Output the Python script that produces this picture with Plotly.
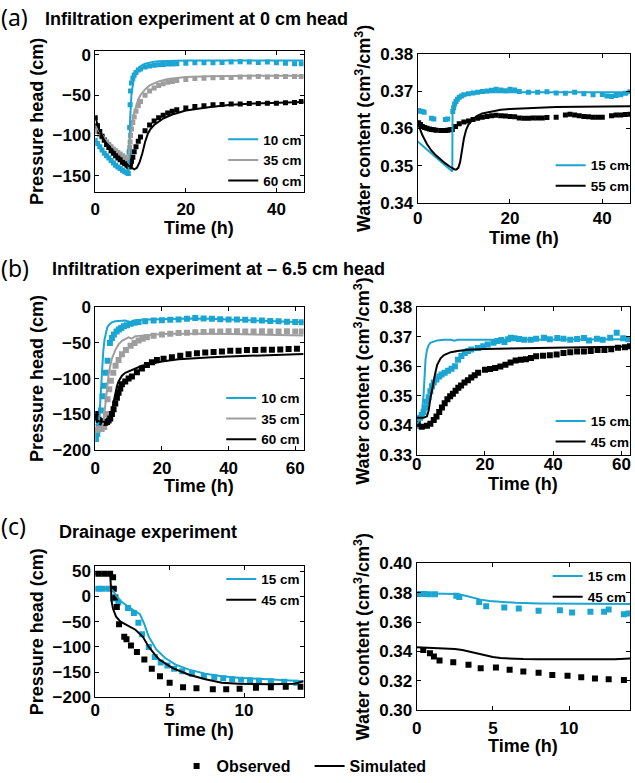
import plotly.graph_objects as go

W, H = 635, 783
CYAN = "#1aa5d2"
GRAY = "#9e9e9e"
BLACK = "#000000"
FONT = "Liberation Sans"

# ---------------- (a) infiltration at 0 cm head ----------------
pa_obs_t = [0, 0.5, 1, 1.5, 2, 2.5, 3, 3.5, 4, 4.5, 5, 5.5, 6, 6.5, 7, 7.3, 7.5, 7.6, 7.7, 7.8,
            8, 8.3, 8.6, 9, 9.5, 10, 11, 12, 13, 14, 15, 16, 17, 18, 20, 22, 24, 26, 28, 30,
            32, 34, 36, 38, 40, 42, 44, 45.5]
pa10_obs = [-106, -110, -114, -118, -122, -125, -128, -131, -134, -137, -139, -141, -143, -145, -146, -147, -120, -90, -62, -45,
            -35, -29, -25, -22, -19, -17.5, -15, -14, -13, -12.5, -12, -11.5, -11.5, -11, -10.5, -10, -10, -10, -9.5, -9,
            -8.5, -9, -9.5, -9, -10, -10.5, -11, -11]
pa35_obs = [-92, -95, -99, -102, -105, -108, -111, -114, -117, -119, -121, -123, -125, -127, -129, -130, -122, -115, -108, -100,
            -92, -84, -77, -70, -63, -58, -50, -45, -41, -38, -36, -34, -33, -32, -30.5, -29.5, -29, -28.5, -28, -28,
            -27.5, -27.5, -27, -27.5, -27, -27, -27, -27]
pa60_obs = [-78, -88, -95, -101, -106, -111, -115, -119, -122, -125, -128, -130, -133, -135, -137, -138, -139, -138, -137, -135,
            -132, -127, -120, -114, -107, -102, -94, -87, -82, -78, -75, -72, -70, -68, -66, -64, -63, -62, -61.5, -61,
            -61, -60.5, -60.5, -60, -60, -59.5, -59, -58]
pa10_sim_t = [0, 1, 2, 3, 4, 5, 6, 7, 7.3, 7.5, 7.7, 8, 8.5, 9, 9.5, 10, 11, 12, 13, 14, 16, 18, 20, 25, 30, 35, 40, 46]
pa10_sim = [-106, -114, -121, -127, -133, -138, -142, -145, -147, -125, -80, -48, -31, -22, -17, -14, -11, -9.5, -8.5, -8,
            -7.5, -7.2, -7, -7, -7, -7, -7, -7]
pa35_sim_t = [0, 1, 2, 3, 4, 5, 6, 7, 7.3, 7.6, 8, 8.5, 9, 9.5, 10, 11, 12, 13, 14, 16, 18, 20, 25, 30, 35, 40, 46]
pa35_sim = [-88, -96, -103, -109, -115, -120, -124, -128, -130, -112, -90, -74, -63, -55, -50, -43, -38, -35, -33, -30,
            -28.5, -27.5, -26.5, -26, -26, -26, -26]
pa60_sim_t = [0, 0.5, 1, 2, 3, 4, 5, 6, 7, 7.5, 8, 8.6, 9.2, 9.8, 10.4, 11, 11.6, 12.2, 13, 14, 15, 17, 20, 25, 30, 35, 40, 46]
pa60_sim = [-76, -87, -94, -106, -115, -121, -127, -132, -136, -138, -140, -142, -140, -133, -122, -108, -98, -92, -87, -83,
            -79, -74, -69, -65, -62, -60.5, -59.5, -58.5]

wa15_obs_t = [0.2, 0.6, 1.0, 1.4, 3.0, 3.5, 6.0, 6.5, 7.6, 7.8, 8.0, 8.3, 8.6, 9.0, 9.5, 10, 11, 12, 13, 14,
              15, 16, 17, 18, 19, 20, 21, 22, 24, 26, 28, 30, 32, 34, 36, 38, 40, 41, 42, 43, 44, 45, 46]
wa15_obs = [0.3648, 0.3646, 0.3645, 0.3643, 0.3627, 0.3625, 0.3624, 0.3625, 0.3645, 0.3655,
            0.3665, 0.3672, 0.3678, 0.3683, 0.3687, 0.3690, 0.3693, 0.3695, 0.3697, 0.3699,
            0.3700, 0.3702, 0.3705, 0.3703, 0.3701, 0.3705, 0.3703, 0.3699, 0.3697, 0.3697,
            0.3698, 0.3695, 0.3694, 0.3697, 0.3693, 0.3690, 0.3691, 0.3687, 0.3685, 0.3688,
            0.3690, 0.3694, 0.3698]
wa55_obs_t = [0.2, 0.6, 1, 1.5, 2, 2.5, 3, 3.5, 4, 5, 6, 6.5, 7, 7.5, 8.2, 9, 10, 11, 12, 13,
              14, 15, 16, 17, 18, 19, 20, 21, 22, 23, 24, 25, 26, 27, 28, 30, 32, 33, 34, 35,
              36, 37, 38, 39, 40, 42, 43, 44, 45, 46]
wa55_obs = [0.3615, 0.3610, 0.3605, 0.3602, 0.3600, 0.3598, 0.3597, 0.3596, 0.3595, 0.3594,
            0.3594, 0.3595, 0.3596, 0.3597, 0.3605, 0.3612, 0.3617, 0.3620, 0.3624, 0.3627,
            0.3630, 0.3632, 0.3634, 0.3635, 0.3634, 0.3633, 0.3632, 0.3631, 0.3628, 0.3627,
            0.3627, 0.3628, 0.3628, 0.3628, 0.3629, 0.3630, 0.3636, 0.3638, 0.3636, 0.3634,
            0.3632, 0.3631, 0.3630, 0.3630, 0.3630, 0.3634, 0.3636, 0.3636, 0.3637, 0.3638]
wa15_sim_t = [0, 1, 2, 3, 4, 5, 6, 7, 7.5, 7.55, 8, 8.5, 9, 10, 11, 12, 14, 16, 20, 25, 30, 35, 40, 46]
wa15_sim = [0.3565, 0.3554, 0.3543, 0.3532, 0.3522, 0.3511, 0.3501, 0.3490, 0.3484, 0.3640, 0.3662, 0.3675,
            0.3683, 0.3690, 0.3694, 0.3696, 0.3697, 0.3697, 0.3697, 0.3697, 0.3697, 0.3697, 0.3697, 0.3697]
wa55_sim_t = [0, 0.5, 1, 2, 3, 4, 5, 6, 7, 7.5, 8, 8.4, 8.8, 9.2, 9.6, 10, 10.5, 11, 12, 13, 14, 16, 18, 20, 25,
              30, 35, 40, 46]
wa55_sim = [0.3615, 0.3597, 0.3582, 0.3558, 0.3540, 0.3527, 0.3516, 0.3506, 0.3497, 0.3493, 0.3490, 0.3490,
            0.3494, 0.3510, 0.3540, 0.3572, 0.3596, 0.3610, 0.3625, 0.3634, 0.3640, 0.3646, 0.3650, 0.3652,
            0.3655, 0.3657, 0.3658, 0.3658, 0.3659]

# ---------------- (b) infiltration at -6.5 cm head ----------------
pb10_obs_t = [0.2, 0.6, 1.1, 1.7, 2.2, 2.7, 3.2, 3.7, 4.4, 5.0, 5.6, 6.4, 7.1, 7.8, 8.6, 9.5, 10.6, 11.8, 13,
              15, 17.5, 20, 22.5, 25, 27.5, 30, 32.5, 35, 37.5, 40, 42.5, 45, 47.5, 50, 52.5, 55, 57.5, 60, 62]
pb10_obs = [-185, -178, -165, -145, -125, -110, -92, -75, -50, -43, -38, -34, -31, -29, -26.5, -25, -23, -21.5, -20.5,
            -19.5, -18.5, -18, -17.5, -17, -16, -15, -15.5, -16, -16.5, -17, -17, -17.5, -18, -18.5, -19, -19.5, -20,
            -20.5, -21]
pb35_obs_t = [0.2, 0.7, 1.3, 1.9, 2.7, 3.2, 3.7, 4.2, 4.7, 5.4, 6.1, 7, 8, 9.2, 10.6, 11.8, 13, 14.2, 15.5, 17.5,
              20, 22.5, 25, 27.5, 30, 32.5, 35, 37.5, 40, 42.5, 45, 47.5, 50, 52.5, 55, 57.5, 60, 62]
pb35_obs = [-172, -172, -171, -171, -168, -150, -129, -115, -103, -92, -82, -74, -66, -60, -54, -50, -46.5, -44, -42, -40,
            -38, -37, -36, -35.5, -35, -34.5, -34, -34, -33.5, -33.5, -34, -34, -33.5, -34, -34, -33.5, -34, -34]
pb60_obs_t = [0.2, 0.6, 1.0, 1.5, 2.0, 2.5, 3.0, 3.5, 4.0, 4.5, 5.0, 5.5, 6.0, 6.5, 7.0, 7.5, 8.0, 9.0, 10.0, 11.0,
              12.5, 14, 15.5, 17, 18.5, 20.5, 23, 25.5, 28, 30.5, 33, 35.5, 38, 40.5, 43, 45.5, 48, 50.5, 53, 55.5,
              58, 60.5]
pb60_obs = [-150, -155, -158, -160, -161, -162, -162, -161, -159, -156, -150, -143, -135, -127, -120, -114, -108, -104,
            -100, -97, -91, -86, -81, -77, -74, -72, -70, -68, -66, -64.5, -63.5, -62.5, -62, -61, -61, -60, -60, -59.5,
            -59.5, -59, -58.5, -58]
pb10_sim_t = [0, 0.5, 1, 1.3, 1.6, 2, 2.4, 2.8, 3.2, 3.6, 4.2, 5, 6, 7.5, 9, 10, 10.5, 11, 12, 14, 18, 22, 28, 34,
              40, 48, 55, 62.5]
pb10_sim = [-165, -165, -163, -150, -125, -90, -62, -45, -34, -28, -24, -21, -19.5, -18.5, -18.5, -20, -22, -20, -18,
            -17.5, -17, -16.5, -15.5, -16, -17, -18.5, -20, -21]
pb35_sim_t = [0, 0.5, 1, 1.5, 2, 2.5, 3, 3.5, 4, 4.5, 5, 6, 7, 8, 9, 10, 11, 11.5, 12, 13, 15, 18, 22, 28, 34, 40,
              48, 55, 62.5]
pb35_sim = [-170, -170, -170, -169, -168, -160, -138, -112, -95, -82, -72, -60, -52, -47, -44, -42, -44, -42, -40.5,
            -40, -39, -38, -37, -36.5, -37, -37.5, -38.5, -39, -39.5]
pb60_sim_t = [0, 0.5, 1, 2, 3, 4, 4.5, 5, 5.5, 6, 6.5, 7, 7.5, 8, 9, 10, 11, 12, 13, 14, 16, 18, 20, 25, 30, 35, 40,
              45, 50, 55, 62.5]
pb60_sim = [-153, -158, -160, -161, -161, -160, -155, -145, -132, -120, -111, -104, -99, -96, -92, -90, -88, -86, -84,
            -82, -80, -77.5, -76, -73, -71, -70, -69, -68, -67.5, -67, -65.5]

wb15_obs_t = [0.3, 1.0, 1.5, 2.0, 2.5, 3.0, 3.5, 4.0, 4.5, 5.0, 5.8, 6.6, 7.3, 8.2, 9.2, 10.2, 11.2, 12.1, 13.1, 14.1,
              15.0, 16.0, 17.9, 19.5, 20.8, 22.5, 23.7, 24.8, 25.7, 26.8, 27.6, 28.7, 30.0, 31.5, 33.4, 35.0, 37.3,
              39.0, 41.2, 43.0, 45.0, 47.0, 49.0, 50.5, 52.8, 54.5, 56.7, 58.6, 60.5, 62.0]
wb15_obs = [0.3398, 0.3425, 0.3435, 0.3445, 0.3460, 0.3480, 0.3495, 0.3515, 0.3532, 0.3545,
            0.3555, 0.3565, 0.3572, 0.3578, 0.3585, 0.3592, 0.3600, 0.3622, 0.3635, 0.3645,
            0.3652, 0.3657, 0.3662, 0.3668, 0.3674, 0.3680, 0.3686, 0.3689, 0.3683, 0.3692,
            0.3697, 0.3695, 0.3693, 0.3690, 0.3690, 0.3694, 0.3697, 0.3692, 0.3696, 0.3694,
            0.3690, 0.3693, 0.3696, 0.3688, 0.3694, 0.3690, 0.3697, 0.3714, 0.3695, 0.3692]
wb45_obs_t = [0.3, 1.5, 3.0, 4.0, 5.0, 5.8, 6.6, 7.4, 8.2, 9.0, 9.8, 10.6, 11.4, 12.2, 13.0, 14.0, 15.0, 16.0, 17.0,
              18.0, 20.0, 21.5, 23.0, 24.5, 26.0, 27.5, 29.0, 30.5, 32.0, 33.5, 35.0, 37.0, 39.0, 41.0, 43.0, 45.0,
              47.0, 49.0, 51.0, 53.0, 55.0, 57.0, 59.0, 61.0, 62.5]
wb45_obs = [0.3405, 0.3395, 0.3398, 0.3405, 0.3418, 0.3430, 0.3445, 0.3460, 0.3475, 0.3488,
            0.3498, 0.3507, 0.3517, 0.3527, 0.3535, 0.3545, 0.3553, 0.3562, 0.3570, 0.3578,
            0.3588, 0.3591, 0.3594, 0.3599, 0.3605, 0.3613, 0.3620, 0.3622, 0.3624, 0.3628,
            0.3634, 0.3636, 0.3638, 0.3640, 0.3645, 0.3648, 0.3650, 0.3650, 0.3652, 0.3655,
            0.3655, 0.3658, 0.3663, 0.3665, 0.3668]
wb15_sim_t = [0, 0.5, 1, 1.5, 2, 2.3, 2.6, 3, 3.5, 4, 5, 6, 8, 10, 11, 12, 14, 18, 25, 30, 40, 50, 62.5]
wb15_sim = [0.3405, 0.3410, 0.3425, 0.3440, 0.3500, 0.3570, 0.3625, 0.3655, 0.3672, 0.3680, 0.3685, 0.3688,
            0.3690, 0.3690, 0.3687, 0.3690, 0.3690, 0.3690, 0.3690, 0.3691, 0.3691, 0.3692, 0.3692]
wb45_sim_t = [0, 1, 2, 3, 3.5, 4, 4.5, 5, 5.5, 6, 7, 8, 9, 10, 12, 15, 20, 25, 30, 40, 50, 62.5]
wb45_sim = [0.3425, 0.3425, 0.3425, 0.3430, 0.3450, 0.3490, 0.3525, 0.3555, 0.3580, 0.3605, 0.3627, 0.3638,
            0.3644, 0.3648, 0.3652, 0.3656, 0.3659, 0.3660, 0.3661, 0.3662, 0.3663, 0.3667]

# ---------------- (c) drainage ----------------
pc15_obs_t = [0.2, 0.5, 0.9, 1.2, 1.55, 2.2, 2.6, 2.9, 3.15, 3.6, 4.0, 4.4, 4.85, 5.3, 5.85, 6.5, 7.3, 8.0, 8.6, 9.2,
              9.8, 10.4, 11.0, 11.8, 12.7, 13.5]
pc15_obs = [15, 15, 15, -4, -12, -23, -33, -52, -75, -100, -120, -131, -137, -143, -148, -153, -158, -160, -162, -164,
            -165, -166, -167, -168, -169, -171]
pc45_obs_t = [0.2, 0.6, 1.0, 1.2, 1.25, 1.35, 1.45, 1.6, 1.95, 2.1, 2.4, 2.8, 3.3, 3.8, 4.35, 5.0, 5.9, 6.8, 7.9, 8.8,
              9.7, 10.8, 11.8, 12.8, 13.8]
pc45_obs = [45, 45, 45, 38, 15, -2, -21, -55, -80, -85, -97, -110, -125, -143, -158, -171, -180, -182, -184, -184,
            -183, -181, -180, -179, -179]
pc15_sim_t = [0, 0.5, 1.0, 1.15, 1.7, 2.3, 3.0, 3.3, 3.6, 4.1, 4.7, 5.4, 6.3, 7.4, 8.5, 9.6, 10.7, 11.8, 12.9, 14]
pc15_sim = [15, 15, 15, 12, -9, -22, -35, -55, -80, -105, -122, -135, -145, -153, -158, -161, -163, -165, -167, -168]
pc45_sim_t = [0, 0.5, 1.0, 1.05, 1.1, 1.2, 1.4, 1.7, 2.1, 2.7, 3.2, 3.6, 4.0, 4.3, 5.2, 6.3, 7.4, 8.5, 9.6, 11.8,
              13.4, 14]
pc45_sim = [45, 45, 45, 20, -10, -25, -40, -50, -57, -66, -80, -100, -115, -125, -142, -155, -164, -171, -173, -174,
            -173, -168]

wc15_obs_t = [0.2, 0.5, 0.8, 1.2, 2.6, 2.8, 4.1, 4.56, 5.75, 6.7, 8.0, 9.4, 10.2, 11.4, 12.3, 12.6, 13.6, 13.9]
wc15_obs = [0.3790, 0.3790, 0.3788, 0.3788, 0.3778, 0.3770, 0.3736, 0.3707, 0.3698, 0.3691, 0.3676, 0.3680,
            0.3664, 0.3669, 0.3669, 0.3685, 0.3653, 0.3658]
wc45_obs_t = [0.43, 0.87, 1.13, 1.5, 2.4, 3.4, 4.2, 5.2, 6.1, 7.0, 8.0, 8.9, 9.9, 10.8, 11.7, 12.6, 13.6]
wc45_obs = [0.3410, 0.3387, 0.3365, 0.3338, 0.3327, 0.3309, 0.3286, 0.3291, 0.3275, 0.3264, 0.3255, 0.3240,
            0.3235, 0.3225, 0.3216, 0.3212, 0.3206]
wc15_sim_t = [0, 1, 2, 2.7, 3.2, 3.7, 4.2, 4.8, 5.5, 6.5, 8, 10, 12, 14]
wc15_sim = [0.3795, 0.3795, 0.3793, 0.3790, 0.3778, 0.3763, 0.3752, 0.3742, 0.3735, 0.3730, 0.3726, 0.3724,
            0.3723, 0.3722]
wc45_sim_t = [0, 1, 2, 2.5, 3, 3.5, 4, 4.5, 5, 5.5, 6, 7, 8, 9, 10, 11, 12, 13, 14]
wc45_sim = [0.3428, 0.3425, 0.3420, 0.3416, 0.3410, 0.3398, 0.3385, 0.3372, 0.3362, 0.3355, 0.3351, 0.3348,
            0.3347, 0.3346, 0.3346, 0.3346, 0.3346, 0.3347, 0.3352]

# tick values
p_ticks_a = [-150, -100, -50, 0]
p_ticks_b = [-200, -150, -100, -50, 0]
p_ticks_c = [-200, -150, -100, -50, 0, 50]
w_ticks_a = [0.34, 0.35, 0.36, 0.37, 0.38]
w_ticks_b = [0.33, 0.34, 0.35, 0.36, 0.37, 0.38]
w_ticks_c = [0.30, 0.32, 0.34, 0.36, 0.38, 0.40]
t_ticks_a = [0, 20, 40]
t_ticks_b = [0, 20, 40, 60]
t_ticks_c = [0, 5, 10]

P_TITLE = "Pressure head (cm)"
W_TITLE = "Water content (cm<sup>3</sup>/cm<sup>3</sup>)"
T_TITLE = "Time (h)"


def xdom(x0, x1):
    return [x0 / W, min(x1 / W, 1.0)]


def ydom(y0, y1):
    return [1 - y1 / H, 1 - y0 / H]


# panel boxes in pixels: (left, right, top, bottom); lab = tick label shift, tgap = time title offset
panels = [
    dict(box=(96, 306, 51, 193), xr=[0, 46], yr=[-170, 5], xt=t_ticks_a, yt=p_ticks_a, fmt=None,
         title=P_TITLE, lab=2, tgap=36),
    dict(box=(421, 635, 54, 204), xr=[0, 46], yr=[0.34, 0.38], xt=t_ticks_a, yt=w_ticks_a, fmt=".2f",
         title=W_TITLE, lab=0, tgap=35),
    dict(box=(96, 306, 309, 452), xr=[0, 62.5], yr=[-200, 0], xt=t_ticks_b, yt=p_ticks_b, fmt=None,
         title=P_TITLE, lab=3, tgap=36),
    dict(box=(420, 635, 309, 457), xr=[0, 62.5], yr=[0.33, 0.38], xt=t_ticks_b, yt=w_ticks_b, fmt=".2f",
         title=W_TITLE, lab=-6, tgap=29),
    dict(box=(96, 306, 569, 701), xr=[0, 14], yr=[-200, 60], xt=t_ticks_c, yt=p_ticks_c, fmt=None,
         title=P_TITLE, lab=-3, tgap=33),
    dict(box=(420, 635, 566, 714), xr=[0, 14], yr=[0.30, 0.40], xt=t_ticks_c, yt=w_ticks_c, fmt=".2f",
         title=W_TITLE, lab=2, tgap=36),
]

tickfont = dict(family=FONT, size=17, color="black", weight="bold")
titlefont = dict(family=FONT, size=18, color="black", weight="bold")

fig = go.Figure()
layout = dict(
    width=W, height=H, margin=dict(l=0, r=0, t=0, b=0),
    paper_bgcolor="white", plot_bgcolor="white", showlegend=True,
)
annotations = []

for i, p in enumerate(panels, start=1):
    l, r, t, b = p["box"]
    sx = "" if i == 1 else str(i)
    common = dict(showgrid=False, zeroline=False, showline=True, linecolor="black", linewidth=1,
                  mirror="ticks", ticks="inside", ticklen=4, tickcolor="black", tickwidth=1,
                  tickfont=tickfont, automargin=False)
    layout["xaxis" + sx] = dict(common, domain=xdom(l, r), range=p["xr"], tickvals=p["xt"],
                                anchor="y" + sx, ticklabelstandoff=p["lab"])
    ydict = dict(common, domain=ydom(t, b), range=p["yr"], tickvals=p["yt"], anchor="x" + sx,
                 title=dict(text=p["title"], font=titlefont, standoff=4))
    if p["fmt"]:
        ydict["tickformat"] = p["fmt"]
    layout["yaxis" + sx] = ydict
    # time axis title, set just under the tick labels
    annotations.append(dict(text=T_TITLE, x=(l + r) / 2 / W, y=1 - (b + p["tgap"]) / H, xref="paper",
                            yref="paper", xanchor="center", yanchor="middle", showarrow=False,
                            font=titlefont))


def obs(x, y, color, ax, size=6):
    sx = "" if ax == 1 else str(ax)
    fig.add_trace(go.Scatter(x=x, y=y, mode="markers", xaxis="x" + sx, yaxis="y" + sx, showlegend=False,
                             marker=dict(symbol="square", size=size, color=color, line=dict(width=0))))


def sim(x, y, color, ax, name, legend):
    sx = "" if ax == 1 else str(ax)
    fig.add_trace(go.Scatter(x=x, y=y, mode="lines", xaxis="x" + sx, yaxis="y" + sx, name=name,
                             legend=legend, line=dict(color=color, width=2)))


# (a)
obs(pa_obs_t, pa35_obs, GRAY, 1, 5)
obs(pa_obs_t, pa60_obs, BLACK, 1, 5)
obs(pa_obs_t, pa10_obs, CYAN, 1, 5)
sim(pa10_sim_t, pa10_sim, CYAN, 1, "10 cm", "legend")
sim(pa35_sim_t, pa35_sim, GRAY, 1, "35 cm", "legend")
sim(pa60_sim_t, pa60_sim, BLACK, 1, "60 cm", "legend")
obs(wa15_obs_t, wa15_obs, CYAN, 2, 5)
obs(wa55_obs_t, wa55_obs, BLACK, 2, 5)
sim(wa15_sim_t, wa15_sim, CYAN, 2, "15 cm", "legend2")
sim(wa55_sim_t, wa55_sim, BLACK, 2, "55 cm", "legend2")
# (b)
obs(pb10_obs_t, pb10_obs, CYAN, 3)
obs(pb35_obs_t, pb35_obs, GRAY, 3)
obs(pb60_obs_t, pb60_obs, BLACK, 3)
sim(pb10_sim_t, pb10_sim, CYAN, 3, "10 cm", "legend3")
sim(pb35_sim_t, pb35_sim, GRAY, 3, "35 cm", "legend3")
sim(pb60_sim_t, pb60_sim, BLACK, 3, "60 cm", "legend3")
obs(wb15_obs_t, wb15_obs, CYAN, 4)
obs(wb45_obs_t, wb45_obs, BLACK, 4)
sim(wb15_sim_t, wb15_sim, CYAN, 4, "15 cm", "legend4")
sim(wb45_sim_t, wb45_sim, BLACK, 4, "45 cm", "legend4")
# (c)
obs(pc15_obs_t, pc15_obs, CYAN, 5)
obs(pc45_obs_t, pc45_obs, BLACK, 5)
sim(pc15_sim_t, pc15_sim, CYAN, 5, "15 cm", "legend5")
sim(pc45_sim_t, pc45_sim, BLACK, 5, "45 cm", "legend5")
obs(wc15_obs_t, wc15_obs, CYAN, 6)
obs(wc45_obs_t, wc45_obs, BLACK, 6)
sim(wc15_sim_t, wc15_sim, CYAN, 6, "15 cm", "legend6")
sim(wc45_sim_t, wc45_sim, BLACK, 6, "45 cm", "legend6")

# shared key for marker / line meaning
fig.add_trace(go.Scatter(x=[None], y=[None], mode="markers", name="Observed", legend="legend7",
                         marker=dict(symbol="square", size=6, color=BLACK)))
fig.add_trace(go.Scatter(x=[None], y=[None], mode="lines", name="Simulated", legend="legend7",
                         line=dict(color=BLACK, width=2)))


def legend_box(text_x, first_y, size=13.5, horizontal=False, entry=None):
    half = (max(size * 1.3, 16) + 3) / 2
    d = dict(x=(text_x - 40) / W, y=1 - (first_y - 5 - half) / H, xref="paper", yref="paper",
             xanchor="left", yanchor="top", bgcolor="rgba(0,0,0,0)", borderwidth=0,
             font=dict(family=FONT, size=size, color="black", weight="bold"),
             itemwidth=30, tracegroupgap=0, itemclick=False, itemdoubleclick=False)
    if horizontal:
        d["orientation"] = "h"
    if entry:
        d["entrywidth"] = entry
        d["entrywidthmode"] = "pixels"
    return d


layout["legend"] = legend_box(265, 140)
layout["legend2"] = legend_box(595, 166)
layout["legend3"] = legend_box(263, 400)
layout["legend4"] = legend_box(595, 423)
layout["legend5"] = legend_box(263, 582)
layout["legend6"] = legend_box(592, 579)
layout["legend7"] = legend_box(218, 770, size=16, horizontal=True, entry=88)

tfont_b = dict(family=FONT, size=18, color="black", weight="bold")
tfont_r = dict(family="Noto Sans", size=23, color="black")
notes = [
    ("(a)", -1, 17.5, tfont_r), ("Infiltration experiment at 0 cm head", 43, 19.5, tfont_b),
    ("(b)", -1, 269, tfont_r), ("Infiltration experiment at \u2013 6.5 cm head", 50, 270, tfont_b),
    ("(c)", -1, 529, tfont_r), ("Drainage experiment", 57, 535, tfont_b),
]
annotations += [
    dict(text=s, x=x / W, y=1 - y / H, xref="paper", yref="paper", xanchor="left", yanchor="middle",
         showarrow=False, font=f) for s, x, y, f in notes
]
layout["annotations"] = annotations

fig.update_layout(**layout)
fig.write_html("out.html")
